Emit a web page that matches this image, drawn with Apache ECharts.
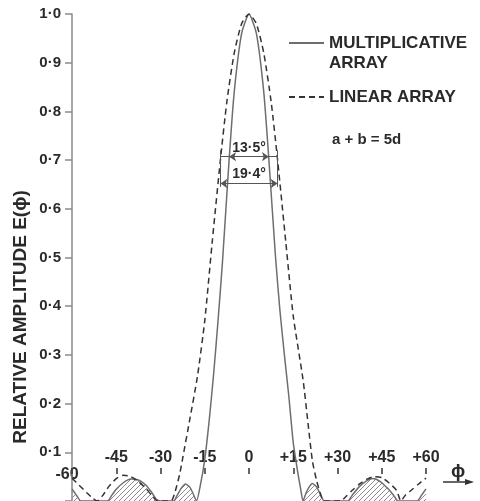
<!DOCTYPE html>
<html><head><meta charset="utf-8">
<script src="https://cdn.jsdelivr.net/npm/echarts@6/dist/echarts.min.js"></script>
<style>html,body{margin:0;padding:0;background:#fff}#c{width:480px;height:501px}</style>
</head><body><div id="c"></div>
<script>
// ---- data ----
const xTicks = [-60, -45, -30, -15, 0, 15, 30, 45, 60];
const yTicks = [0.1, 0.2, 0.3, 0.4, 0.5, 0.6, 0.7, 0.8, 0.9, 1.0];
const multName = 'MULTIPLICATIVE ARRAY';
const linName = 'LINEAR ARRAY';
const multDeg = [-60,-58.5,-57,-52,-48,-46.5,-45,-42.5,-40,-37.5,-35,-33,-31.5,-30,-25.5,-24.5,-23,-21.5,-20,-19,-17.8,-16.5,-15,-13.5,-12,-10.5,-9,-6.75,-5,-2.5,0,2.5,5,6.75,9,10.5,12,13.5,15,16.5,17.5,18.3,19.3,20.5,21.5,23,24.5,25.5,33.5,35,37.5,40,42,44.5,47,49,50.5,57,58.5,60];
const multVal = [0.025,0.012,0,0,0,0.012,0.024,0.038,0.045,0.043,0.033,0.018,0.004,0,0,0.01,0.026,0.035,0.028,0.016,0,0.032,0.085,0.165,0.26,0.37,0.49,0.70,0.84,0.96,1.0,0.96,0.84,0.70,0.50,0.39,0.30,0.215,0.12,0.06,0.025,0,0.016,0.03,0.036,0.028,0.01,0,0,0.012,0.03,0.042,0.046,0.04,0.026,0.012,0,0,0.012,0.025];
const linDeg = [-60,-57.5,-55,-53,-51.5,-49.5,-47.5,-45,-42.5,-40,-37.5,-35,-33,-31,-27,-26,-25,-23.5,-22.5,-20,-17.5,-15,-12.5,-9.7,-7.5,-5,-2.5,0,2.5,5,7.5,9.7,12.5,15,18.3,20,21.5,23,24.7,25.5,31,33,35,37.5,40,42.5,45,47.5,50,51.5,53,55,57.5,60];
const linVal = [0.047,0.032,0.017,0.006,0,0.012,0.03,0.046,0.053,0.05,0.04,0.026,0.012,0,0,0.003,0.02,0.055,0.087,0.17,0.255,0.37,0.53,0.70,0.82,0.92,0.98,1.0,0.98,0.92,0.82,0.70,0.53,0.38,0.25,0.16,0.082,0.04,0.006,0,0,0.01,0.022,0.035,0.045,0.05,0.048,0.037,0.022,0,0.012,0.022,0.035,0.047];
const beamMult = 13.5;   // degrees, at 0.7 level
const beamLin = 19.4;
const beamLevel = 0.707;
const beamLow = 0.652;
const noteText = 'a + b = 5d';

// ---- build ----
const FONT = 'Liberation Sans, Arial, DejaVu Sans, sans-serif';
const TXT = '#2a2a2a';
const multData = multDeg.map((d, i) => [d, multVal[i]]);
const linData = linDeg.map((d, i) => [d, linVal[i]]);
const hatchData = [];
multDeg.forEach((d, i) => {
  if (d === 0) hatchData.push([0, '-']);
  if (Math.abs(d) >= 17.8) hatchData.push([d, multVal[i]]);
});
const hc = document.createElement('canvas');
hc.width = 5; hc.height = 5;
const g = hc.getContext('2d');
g.strokeStyle = '#8c8c8c'; g.lineWidth = 1;
g.beginPath();
g.moveTo(0, 5); g.lineTo(5, 0);
g.moveTo(-1, 1); g.lineTo(1, -1);
g.moveTo(4, 6); g.lineTo(6, 4);
g.stroke();

const fmtDeg = s => s.toFixed(1).replace('.', '·') + '°';
const hm = beamMult / 2, hl = beamLin / 2;

const chart = echarts.init(document.getElementById('c'), null, {renderer: 'canvas'});
chart.setOption({
  animation: false,
  backgroundColor: '#fff',
  grid: {left: 72, right: 54, top: 14, bottom: -4, containLabel: false},
  xAxis: {
    type: 'value', min: -60, max: 60, interval: 15, position: 'bottom', offset: -27,
    axisLine: {show: false, onZero: false},
    axisTick: {show: true, inside: true, length: 6, lineStyle: {color: '#333', width: 1.5}},
    axisLabel: {
      inside: true, margin: 8, fontFamily: FONT, fontWeight: 'bold', fontSize: 16, color: TXT,
      formatter: v => (v === xTicks[0] ? '' : (v > 0 ? '+' + v : String(v)))
    },
    splitLine: {show: false}
  },
  yAxis: {
    type: 'value', min: 0, max: 1, interval: 0.1, position: 'left',
    axisLine: {show: true, onZero: false, lineStyle: {color: '#8a8a8a', width: 1.5}},
    axisTick: {show: true, length: 7, lineStyle: {color: '#8a8a8a', width: 1.5}},
    axisLabel: {
      margin: 11, fontFamily: FONT, fontWeight: 'bold', fontSize: 15, color: TXT,
      formatter: v => (yTicks.some(t => Math.abs(t - v) < 1e-6) ? v.toFixed(1).replace('.', '·') : '')
    },
    splitLine: {show: false}
  },
  legend: {
    left: 288, top: 13, orient: 'vertical', padding: 0, itemGap: 14,
    itemWidth: 35, itemHeight: 10, selectedMode: false, icon: 'inherit',
    itemStyle: {opacity: 0, borderWidth: 0},
    data: [multName, linName],
    formatter: n => (n === multName ? '\nMULTIPLICATIVE\nARRAY' : n),
    textStyle: {fontFamily: FONT, fontWeight: 'bold', fontSize: 17, lineHeight: 20, color: TXT}
  },
  series: [
    {
      name: 'hatch', type: 'line', data: hatchData, symbol: 'none', smooth: 0.2, silent: true,
      lineStyle: {width: 0, opacity: 0}, areaStyle: {color: {image: hc, repeat: 'repeat'}, opacity: 1}, z: 1
    },
    {
      name: multName, type: 'line', data: multData, symbol: 'none', smooth: 0.2, z: 3,
      lineStyle: {color: '#6e6e6e', width: 1.5, type: 'solid'}, itemStyle: {color: '#6e6e6e'},
      markLine: {
        silent: true, symbol: ['none', 'none'], symbolSize: 7, precision: 3,
        lineStyle: {color: '#555', width: 1, type: 'solid'},
        label: {show: false},
        data: [
          [{coord: [-hl, beamLevel]}, {coord: [hl, beamLevel]}],
          [{coord: [-hm, beamLevel], symbol: 'arrow',
            label: {show: true, formatter: fmtDeg(beamMult), position: 'insideMiddleTop', distance: 2,
                    fontFamily: FONT, fontWeight: 'bold', fontSize: 14, color: TXT}},
           {coord: [hm, beamLevel], symbol: 'arrow'}],
          [{coord: [-hl, beamLow], symbol: 'arrow',
            label: {show: true, formatter: fmtDeg(beamLin), position: 'insideMiddleTop', distance: 2,
                    fontFamily: FONT, fontWeight: 'bold', fontSize: 14, color: TXT}},
           {coord: [hl, beamLow], symbol: 'arrow'}],
          [{coord: [-hl, 0.72]}, {coord: [-hl, 0.645]}],
          [{coord: [hl, 0.72]}, {coord: [hl, 0.645]}]
        ]
      }
    },
    {
      name: linName, type: 'line', data: linData, symbol: 'none', smooth: 0.2, z: 3,
      lineStyle: {color: '#333', width: 1.5, type: [6, 4]}, itemStyle: {color: '#333'}
    }
  ]
});

const p60 = chart.convertToPixel({xAxisIndex: 0, yAxisIndex: 0}, [xTicks[0], 0.055]);
chart.setOption({
  graphic: [
    {type: 'text', x: 21, y: 317, rotation: Math.PI / 2,
     style: {text: 'RELATIVE AMPLITUDE E(ϕ)', font: 'bold 19px ' + FONT, fill: TXT, align: 'center', verticalAlign: 'middle'}},
    {type: 'text', x: p60[0] - 5, y: p60[1],
     style: {text: String(xTicks[0]), font: 'bold 16px ' + FONT, fill: TXT, align: 'center', verticalAlign: 'middle'}},
    {type: 'text', x: 332, y: 140,
     style: {text: noteText, font: 'bold 15px ' + FONT, fill: TXT, align: 'left', verticalAlign: 'middle'}},
    {type: 'text', x: 458, y: 472,
     style: {text: 'ϕ', font: 'bold 19px ' + FONT, fill: TXT, align: 'center', verticalAlign: 'middle'}},
    {type: 'line', shape: {x1: 443, y1: 482, x2: 468, y2: 482}, style: {stroke: '#333', lineWidth: 1.5}},
    {type: 'polygon', shape: {points: [[465, 479], [474, 482], [465, 485]]}, style: {fill: '#333'}}
  ]
});
</script>
</body></html>
